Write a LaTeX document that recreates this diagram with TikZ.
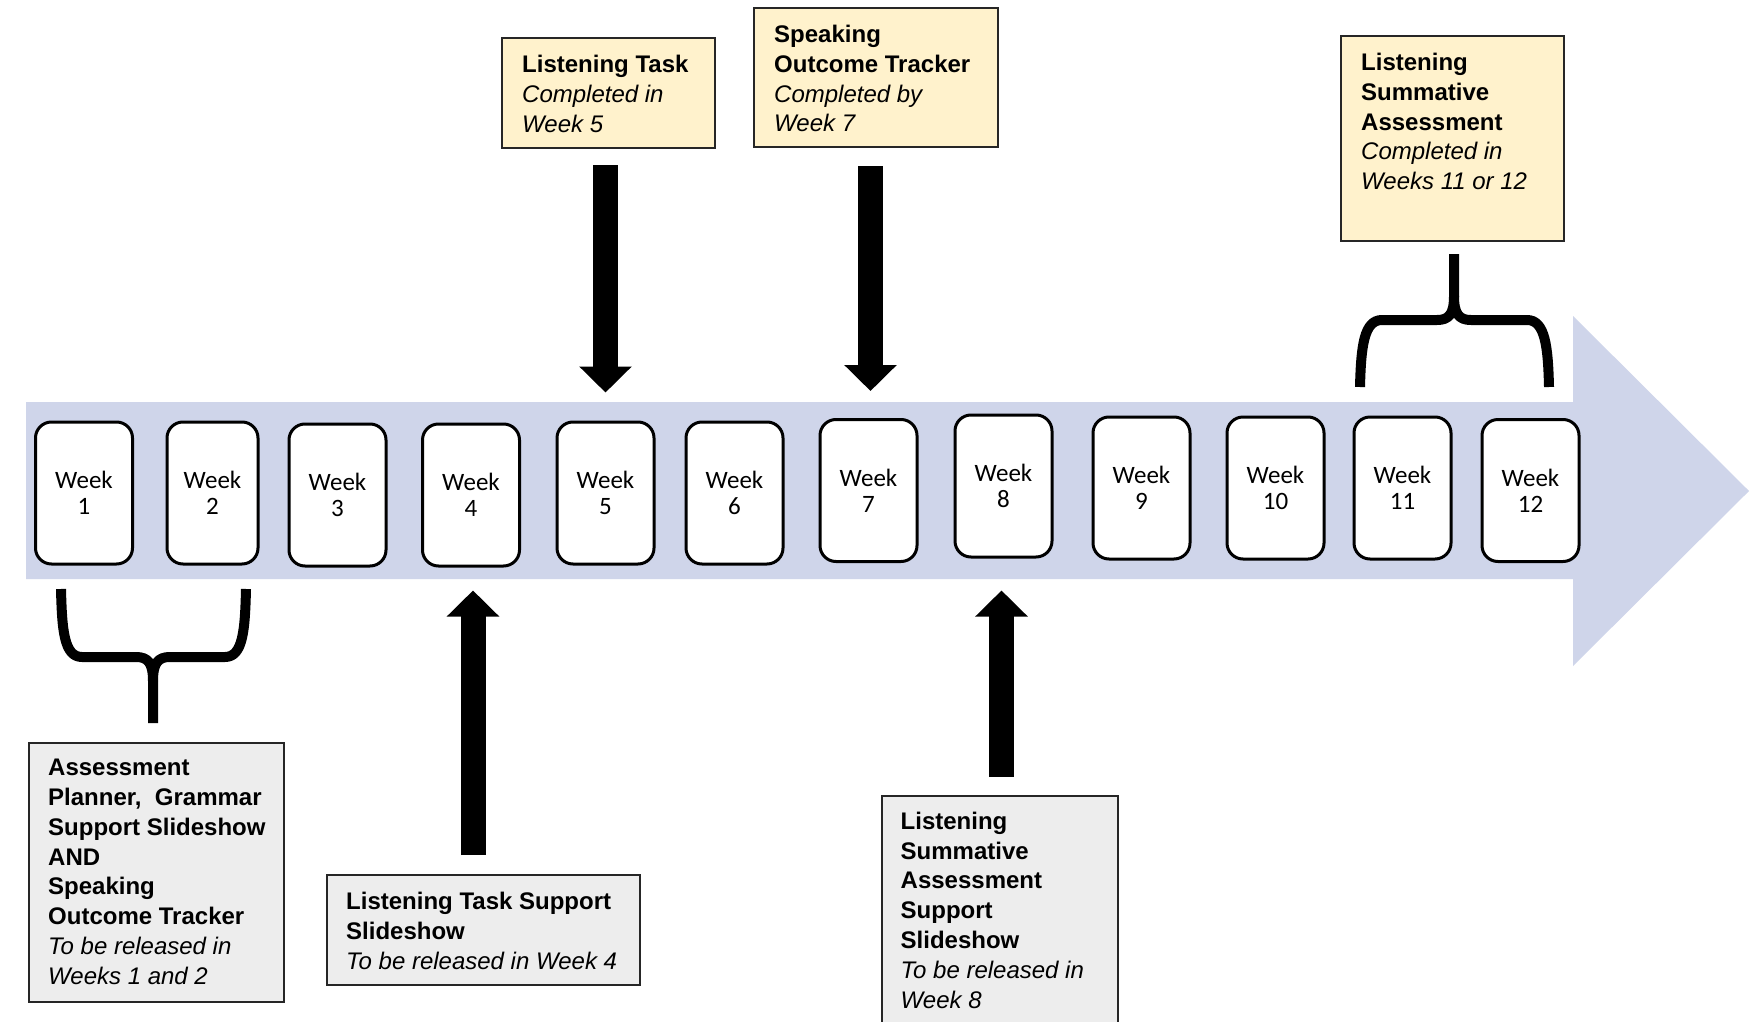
\documentclass[tikz,border=0pt]{standalone}
\usepackage{fontspec}
\setmainfont{Liberation Sans}
\newfontfamily\weekfont{Carlito}
\usetikzlibrary{arrows.meta,calc}
\definecolor{bandblue}{HTML}{CFD5EA}
\definecolor{noteyellow}{HTML}{FFF2CC}
\definecolor{notegrey}{HTML}{EDEDED}
\begin{document}
\begin{tikzpicture}[x=1pt,y=-1pt,
  weekbox/.style={draw=black, line width=3pt, rounded corners=16pt, fill=white,
    minimum width=97pt, minimum height=142pt, inner sep=0pt, align=center,
    font=\weekfont\fontsize{25}{26}\selectfont},
  notebox/.style={draw=black!85, line width=2pt, inner sep=0pt, anchor=north west},
  notetext/.style={anchor=north west, inner sep=0pt, align=left,
    font=\fontsize{24}{29.8}\selectfont},
  blockarrow/.style={line width=25pt, -{Triangle[length=26pt,width=51pt]}},
  bracepath/.style={line width=10pt, line cap=butt, line join=round},
]
\useasboundingbox (0,0) rectangle (1750,1022);
\clip (0,0) rectangle (1750,1022);
\fill[white] (0,0) rectangle (1750,1022);

% timeline arrow
\fill[bandblue] (26,402) -- (1573,402) -- (1573,316) -- (1749,491) -- (1573,666)
  -- (1573,579) -- (26,579) -- cycle;

% week boxes
\node[weekbox] (w1) at (84,493) {Week\\1};
\node[weekbox, minimum width=91pt] (w2) at (212.5,493) {Week\\2};
\node[weekbox] (w3) at (337.5,495) {Week\\3};
\node[weekbox] (w4) at (471,495) {Week\\4};
\node[weekbox] (w5) at (605.5,493) {Week\\5};
\node[weekbox] (w6) at (734.5,493) {Week\\6};
\node[weekbox] (w7) at (868.5,490.5) {Week\\7};
\node[weekbox] (w8) at (1003.5,486) {Week\\8};
\node[weekbox] (w9) at (1141.5,488) {Week\\9};
\node[weekbox] (w10) at (1275.5,488) {Week\\10};
\node[weekbox] (w11) at (1402.5,488) {Week\\11};
\node[weekbox] (w12) at (1530.5,490.5) {Week\\12};

% yellow notes
\node[notebox, fill=noteyellow, minimum width=213pt, minimum height=110pt] (y1) at (501,37) {};
\node[notetext] (y1t) at ($(y1.north west)+(21,18)$) {\textbf{Listening Task}\\\textit{Completed in}\\\textit{Week 5}};

\node[notebox, fill=noteyellow, minimum width=244pt, minimum height=139pt] (y2) at (753,7) {};
\node[notetext] (y2t) at ($(y2.north west)+(21,18)$) {\textbf{Speaking}\\\textbf{Outcome Tracker}\\\textit{Completed by}\\\textit{Week 7}};

\node[notebox, fill=noteyellow, minimum width=223pt, minimum height=205pt] (y3) at (1340,35) {};
\node[notetext] (y3t) at ($(y3.north west)+(21,18)$) {\textbf{Listening}\\\textbf{Summative}\\\textbf{Assessment}\\\textit{Completed in}\\\textit{Weeks 11 or 12}};

% grey notes
\node[notebox, fill=notegrey, minimum width=255pt, minimum height=259pt] (g1) at (28,742) {};
\node[notetext] (g1t) at ($(g1.north west)+(20,17)$) {\textbf{Assessment}\\\textbf{Planner,\ \ Grammar}\\\textbf{Support Slideshow}\\\textbf{AND}\\\textbf{Speaking}\\\textbf{Outcome Tracker}\\\textit{To be released in}\\\textit{Weeks 1 and 2}};

\node[notebox, fill=notegrey, minimum width=313pt, minimum height=110pt] (g2) at (326,874) {};
\node[notetext] (g2t) at ($(g2.north west)+(20,18)$) {\textbf{Listening Task Support}\\\textbf{Slideshow}\\\textit{To be released in Week 4}};

\node[notebox, fill=notegrey, minimum width=236.5pt, minimum height=250pt] (g3) at (880.5,794.6) {};
\node[notetext] (g3t) at ($(g3.north west)+(20,17)$) {\textbf{Listening}\\\textbf{Summative}\\\textbf{Assessment}\\\textbf{Support}\\\textbf{Slideshow}\\\textit{To be released in}\\\textit{Week 8}};

% block arrows
\draw[blockarrow] ($(w5.north |- y1.south)+(0,16)$) -- ($(w5.north)+(0,-28)$);
\draw[blockarrow] ($(w7.north |- y2.south)+(2,18)$) -- ($(w7.north)+(2,-27)$);
\draw[blockarrow] ($(w4.south |- g2.north)+(2,-19)$) -- ($(w4.south)+(2,23)$);
\draw[blockarrow] ($(w8.south |- g3.north)+(-2,-18)$) -- ($(w8.south)+(-2,32)$);

% brace under weeks 1-2
\draw[bracepath] (61,589) .. controls (62,630) and (64,657) .. (82,657) -- (136,657)
  .. controls (148,657) and (153,663) .. (153,681) -- (153,723);
\draw[bracepath] (246,589) .. controls (245,630) and (243,657) .. (225,657) -- (170,657)
  .. controls (158,657) and (153,663) .. (153,681);

% brace above weeks 11-12
\draw[bracepath] (1360,387) .. controls (1361,346) and (1364,320) .. (1382,320) -- (1437,320)
  .. controls (1449,320) and (1454,314) .. (1454,296) -- (1454,254);
\draw[bracepath] (1549,387) .. controls (1548,346) and (1545,320) .. (1527,320) -- (1471,320)
  .. controls (1459,320) and (1454,314) .. (1454,296);
\end{tikzpicture}
\end{document}
